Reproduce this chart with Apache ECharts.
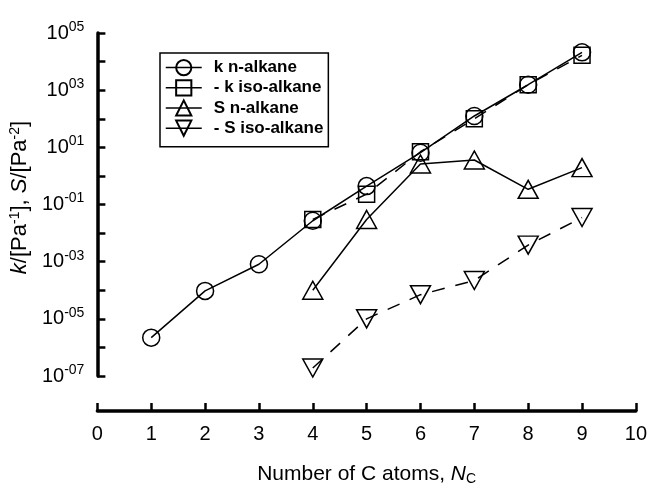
<!DOCTYPE html>
<html>
<head>
<meta charset="utf-8">
<script src="https://cdn.jsdelivr.net/npm/echarts@6/dist/echarts.min.js"></script>
<style>
  html, body { margin: 0; padding: 0; background: #fff; }
  #chart { width: 650px; height: 491px; }
</style>
</head>
<body>
<div id="chart"></div>
<script>
// number of carbon atoms
const nAll = [1, 2, 3, 4, 5, 6, 7, 8, 9]
const nIso = [4, 5, 6, 7, 8, 9]

// values
const kNormal = [2.2e-6, 9.5e-5, 8.1e-4, 0.027, 0.44, 6.5, 125, 1550, 2.1e4]
const kIso = [0.03, 0.23, 7, 100, 1550, 1.65e4]
const sNormal = [1e-4, 0.03, 2.6, 3.6, 0.34, 1.95]
const sIso = [1.9e-7, 1e-5, 7e-5, 2.2e-4, 3.8e-3, 0.035]

const xTicks = [0, 1, 2, 3, 4, 5, 6, 7, 8, 9, 10]

const font = 'Liberation Sans, Arial, sans-serif'

function pairs (xs, ys) {
  return xs.map((x, i) => [x, ys[i]])
}

function makeSeries (name, xs, ys, symbol, size, rotate, dashed) {
  return {
    name: name,
    type: 'line',
    data: pairs(xs, ys),
    symbol: symbol,
    symbolSize: size,
    symbolRotate: rotate,
    showAllSymbol: true,
    lineStyle: { color: '#000', width: 1.5, type: dashed ? [13, 11] : 'solid' },
    itemStyle: { color: 'transparent', borderColor: '#000', borderWidth: 1.5 },
    emphasis: { disabled: true },
    animation: false
  }
}

function pad2 (n) {
  return n < 10 ? '0' + n : '' + n
}

let chart = echarts.init(document.getElementById('chart'))
chart.setOption({
  backgroundColor: '#fff',
  textStyle: { fontFamily: font, color: '#000' },
  grid: { left: 97, right: 13, top: 33, bottom: 99 },
  legend: {
    orient: 'vertical',
    left: 160,
    top: 53,
    padding: [6, 5, 10, 5],
    borderColor: '#000',
    borderWidth: 1.5,
    itemWidth: 36,
    itemHeight: 19,
    itemGap: 3,
    lineStyle: { type: 'solid', width: 1.5 },
    textStyle: { fontFamily: font, fontWeight: 'bold', fontSize: 17, color: '#000', padding: [0, 0, 0, 7] },
    data: ['k n-alkane', '- k iso-alkane', 'S n-alkane', '- S iso-alkane']
  },
  xAxis: {
    type: 'value',
    min: xTicks[0],
    max: xTicks[xTicks.length - 1],
    interval: 1,
    offset: 35,
    name: 'Number of C atoms, {i|N}{sub|C}',
    nameLocation: 'middle',
    nameGap: 52,
    nameTextStyle: {
      fontFamily: font, fontSize: 21, color: '#000',
      rich: {
        i: { fontFamily: font, fontSize: 21, fontStyle: 'italic', color: '#000' },
        sub: { fontFamily: font, fontSize: 14, color: '#000', verticalAlign: 'bottom', padding: [9, 0, 0, 0] }
      }
    },
    axisLine: { onZero: false, lineStyle: { color: '#000', width: 3.5 } },
    axisTick: { inside: true, length: 8, lineStyle: { color: '#000', width: 2.5 } },
    axisLabel: { fontFamily: font, fontSize: 20, color: '#000', margin: 13 },
    splitLine: { show: false }
  },
  yAxis: {
    type: 'log',
    logBase: 10,
    min: 1e-7,
    max: 1e5,
    interval: 1,
    name: '{i|k}/[Pa{sup|-1}], {i|S}/[Pa{sup|-2}]',
    nameLocation: 'middle',
    nameRotate: 90,
    nameGap: 60,
    nameTextStyle: {
      fontFamily: font, fontSize: 22, color: '#000', padding: [0, 0, 0, 14],
      rich: {
        i: { fontFamily: font, fontSize: 22, fontStyle: 'italic', color: '#000' },
        sup: { fontFamily: font, fontSize: 14, color: '#000', verticalAlign: 'top', padding: [0, 0, 10, 0] }
      }
    },
    axisLine: { show: true, lineStyle: { color: '#000', width: 3.5 } },
    axisTick: { show: true, inside: true, length: 8, lineStyle: { color: '#000', width: 2.5 } },
    axisLabel: {
      margin: 13,
      formatter: function (v) {
        const e = Math.round(Math.log10(v))
        if (Math.abs(e) % 2 === 0) return ''
        return '{b|10}{s|' + (e < 0 ? '-' : '') + pad2(Math.abs(e)) + '}'
      },
      rich: {
        b: { fontFamily: font, fontSize: 20, color: '#000' },
        s: { fontFamily: font, fontSize: 14, color: '#000', verticalAlign: 'top', padding: [0, 0, 12, 0] }
      }
    },
    splitLine: { show: false }
  },
  series: [
    makeSeries('k n-alkane', nAll, kNormal, 'circle', 17, 0, false),
    makeSeries('- k iso-alkane', nIso, kIso, 'rect', 16, 0, true),
    makeSeries('S n-alkane', nIso, sNormal, 'triangle', [20, 18], 0, false),
    makeSeries('- S iso-alkane', nIso, sIso, 'triangle', [20, 18], 180, true)
  ]
})
</script>
</body>
</html>
